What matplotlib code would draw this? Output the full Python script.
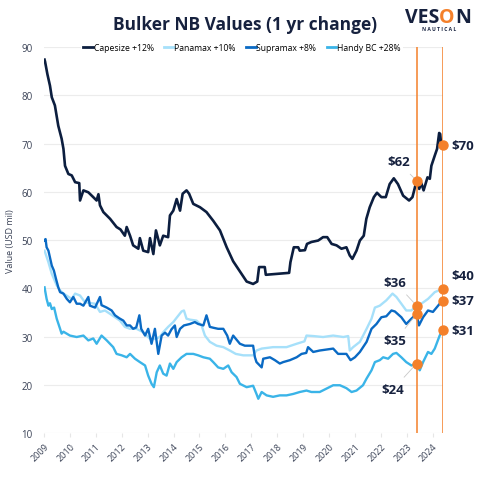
import numpy as np
import matplotlib
matplotlib.use("Agg")
import matplotlib.pyplot as plt

plt.rcParams['font.family'] = ['Open Sans', 'DejaVu Sans']

# series as (decimal year, USD mil)
cape_x = [2009.02, 2009.04, 2009.13, 2009.23, 2009.30, 2009.42, 2009.55, 2009.68, 2009.75, 2009.81,
          2009.94, 2010.07, 2010.20, 2010.36, 2010.39, 2010.52, 2010.71, 2010.90, 2011.03, 2011.10,
          2011.16, 2011.29, 2011.55, 2011.80, 2011.95, 2012.12, 2012.19, 2012.32, 2012.44, 2012.64,
          2012.70, 2012.83, 2013.02, 2013.09, 2013.22, 2013.32, 2013.47, 2013.60, 2013.79, 2013.86,
          2013.99, 2014.12, 2014.25, 2014.35, 2014.50, 2014.60, 2014.76, 2015.02, 2015.27, 2015.53,
          2015.79, 2016.05, 2016.30, 2016.56, 2016.82, 2017.07, 2017.23, 2017.30, 2017.52, 2017.56,
          2018.46, 2018.51, 2018.64, 2018.81, 2018.87, 2019.07, 2019.15, 2019.32, 2019.58, 2019.77,
          2019.93, 2020.10, 2020.29, 2020.48, 2020.67, 2020.80, 2020.90, 2021.06, 2021.19, 2021.34,
          2021.44, 2021.57, 2021.73, 2021.85, 2022.02, 2022.19, 2022.34, 2022.50, 2022.66, 2022.86,
          2023.09, 2023.22, 2023.38, 2023.48, 2023.56, 2023.65, 2023.80, 2023.89, 2023.95, 2024.08,
          2024.17, 2024.25, 2024.29, 2024.33, 2024.38]
cape_y = [87.4, 87.0, 84.4, 82.0, 79.6, 77.9, 73.7, 71.0, 68.9, 65.4,
          63.7, 63.4, 62.0, 61.8, 58.2, 60.3, 59.9, 58.9, 58.2, 59.5,
          57.2, 55.8, 54.4, 52.7, 52.2, 50.9, 52.7, 50.9, 48.9, 48.2,
          50.4, 47.8, 47.5, 50.4, 47.1, 52.0, 48.9, 50.9, 50.6, 55.1,
          56.1, 58.5, 56.1, 59.6, 60.3, 59.6, 57.5, 56.8, 55.8, 54.0,
          52.0, 48.5, 45.6, 43.5, 41.4, 40.9, 41.4, 44.4, 44.4, 42.8,
          43.2, 45.4, 48.5, 48.5, 47.8, 47.9, 49.2, 49.6, 49.9, 50.6,
          50.6, 49.2, 48.9, 48.2, 48.5, 46.8, 46.1, 47.8, 49.9, 50.9,
          54.4, 56.8, 58.9, 59.8, 58.9, 58.9, 61.6, 62.8, 61.6, 59.2,
          58.2, 58.9, 62.3, 60.6, 61.8, 60.3, 63.0, 62.7, 65.4, 67.5,
          68.9, 72.2, 72.0, 69.6, 69.7]

pana_x = [2009.02, 2009.17, 2009.30, 2009.49, 2009.62, 2009.75, 2010.07, 2010.20, 2010.39, 2010.58,
          2010.97, 2011.16, 2011.35, 2011.55, 2011.74, 2011.93, 2012.12, 2012.32, 2012.57, 2012.83,
          2013.09, 2013.28, 2013.47, 2013.60, 2013.79, 2013.99, 2014.09, 2014.31, 2014.40, 2014.50,
          2014.63, 2014.89, 2015.08, 2015.21, 2015.40, 2015.66, 2015.92, 2016.17, 2016.40, 2016.69,
          2017.07, 2017.20, 2017.40, 2017.84, 2018.36, 2018.75, 2019.05, 2019.13, 2019.39, 2019.77,
          2020.16, 2020.55, 2020.74, 2020.80, 2020.93, 2021.19, 2021.45, 2021.64, 2021.77, 2021.96,
          2022.21, 2022.45, 2022.60, 2022.79, 2022.98, 2023.18, 2023.38, 2023.56, 2023.82, 2024.08,
          2024.38]
pana_y = [47.8, 45.4, 43.0, 40.6, 39.6, 38.9, 37.8, 38.9, 38.5, 37.1,
          36.8, 35.1, 35.4, 34.7, 34.0, 33.3, 32.0, 31.6, 31.6, 30.9,
          29.5, 29.5, 29.9, 30.9, 32.0, 33.0, 33.7, 35.2, 35.4, 33.7,
          33.5, 33.3, 32.3, 30.2, 28.9, 28.1, 27.8, 27.1, 26.4, 26.1,
          26.1, 27.1, 27.5, 27.8, 27.8, 28.5, 29.0, 30.2, 30.1, 29.9,
          30.2, 29.9, 30.1, 27.1, 27.8, 28.9, 31.6, 33.7, 36.0, 36.4,
          37.5, 38.9, 38.2, 36.8, 35.4, 35.4, 36.4, 36.8, 37.8, 39.2,
          39.9]

supra_x = [2009.00, 2009.06, 2009.10, 2009.17, 2009.30, 2009.38, 2009.46, 2009.55, 2009.62, 2009.75,
           2009.88, 2010.00, 2010.13, 2010.26, 2010.39, 2010.52, 2010.71, 2010.77, 2010.97, 2011.16,
           2011.22, 2011.42, 2011.61, 2011.74, 2011.90, 2012.06, 2012.19, 2012.32, 2012.44, 2012.56,
           2012.68, 2012.75, 2012.90, 2013.02, 2013.15, 2013.28, 2013.41, 2013.54, 2013.67, 2013.79,
           2013.92, 2014.05, 2014.12, 2014.25, 2014.40, 2014.63, 2014.82, 2014.95, 2015.15, 2015.27,
           2015.40, 2015.55, 2015.72, 2015.92, 2016.07, 2016.17, 2016.30, 2016.56, 2016.75, 2017.07,
           2017.14, 2017.20, 2017.40, 2017.46, 2017.72, 2017.91, 2018.10, 2018.23, 2018.49, 2018.75,
           2018.94, 2019.12, 2019.19, 2019.39, 2019.64, 2020.16, 2020.35, 2020.67, 2020.83, 2021.00,
           2021.19, 2021.45, 2021.64, 2021.83, 2022.02, 2022.21, 2022.41, 2022.54, 2022.79, 2022.98,
           2023.18, 2023.38, 2023.47, 2023.63, 2023.82, 2024.01, 2024.27, 2024.38]
supra_y = [49.9, 50.2, 48.5, 47.8, 44.7, 43.7, 42.0, 40.2, 39.2, 38.9,
           37.8, 37.1, 38.2, 36.8, 36.8, 36.4, 38.2, 36.4, 36.0, 38.2,
           36.5, 36.0, 35.4, 34.4, 33.8, 33.3, 32.3, 32.3, 31.6, 31.9,
           34.4, 31.6, 30.2, 31.6, 28.5, 31.6, 26.4, 30.2, 30.8, 30.2,
           31.5, 32.3, 29.9, 31.6, 32.3, 32.6, 33.0, 32.6, 32.3, 34.4,
           32.0, 31.8, 31.6, 31.6, 30.2, 28.5, 30.2, 28.5, 28.1, 28.1,
           25.7, 24.7, 23.6, 25.4, 25.7, 25.1, 24.4, 24.7, 25.1, 25.7,
           26.4, 26.6, 27.8, 26.8, 27.1, 27.5, 26.4, 26.4, 25.1, 25.7,
           26.8, 28.9, 31.6, 32.6, 34.0, 34.2, 35.4, 35.2, 34.0, 32.6,
           33.7, 34.7, 32.3, 34.0, 35.4, 35.1, 36.8, 37.3]

handy_x = [2009.02, 2009.10, 2009.17, 2009.23, 2009.30, 2009.39, 2009.49, 2009.62, 2009.68, 2009.75,
           2010.00, 2010.26, 2010.52, 2010.71, 2010.90, 2011.03, 2011.22, 2011.42, 2011.67, 2011.80,
           2012.00, 2012.19, 2012.32, 2012.51, 2012.70, 2012.90, 2013.02, 2013.15, 2013.24, 2013.35,
           2013.47, 2013.60, 2013.73, 2013.86, 2013.99, 2014.12, 2014.31, 2014.50, 2014.76, 2014.95,
           2015.15, 2015.40, 2015.53, 2015.72, 2015.92, 2016.11, 2016.24, 2016.43, 2016.56, 2016.82,
           2017.07, 2017.20, 2017.27, 2017.40, 2017.59, 2017.84, 2018.10, 2018.36, 2018.62, 2018.87,
           2019.13, 2019.32, 2019.64, 2019.90, 2020.16, 2020.42, 2020.67, 2020.87, 2021.06, 2021.31,
           2021.45, 2021.64, 2021.77, 2021.96, 2022.09, 2022.28, 2022.47, 2022.60, 2022.79, 2022.98,
           2023.18, 2023.38, 2023.50, 2023.63, 2023.82, 2023.95, 2024.08, 2024.27, 2024.38]
handy_y = [40.2, 37.8, 36.4, 36.9, 35.7, 36.0, 33.7, 31.6, 30.6, 31.0,
           30.2, 29.9, 30.2, 29.2, 29.6, 28.5, 30.2, 29.2, 27.8, 26.4,
           26.1, 25.7, 26.4, 25.4, 24.7, 24.0, 21.9, 20.2, 19.5, 22.6,
           24.0, 22.3, 21.9, 24.4, 23.3, 24.7, 25.7, 26.4, 26.4, 26.1,
           25.7, 25.4, 24.7, 23.6, 23.3, 24.0, 22.6, 21.6, 20.2, 19.5,
           19.8, 18.1, 17.1, 18.5, 17.8, 17.5, 17.8, 17.8, 18.1, 18.5,
           18.8, 18.5, 18.5, 19.2, 19.9, 19.9, 19.3, 18.5, 18.8, 19.9,
           21.3, 23.0, 24.7, 25.1, 25.7, 25.4, 26.4, 26.6, 25.7, 24.7,
           24.0, 24.4, 23.0, 24.7, 26.8, 26.4, 27.5, 30.2, 31.3]

names = ['Capesize +12%', 'Panamax +10%', 'Supramax +8%', 'Handy BC +28%']
colors = ['#0c1e3f', '#a6e0fa', '#0a6ac4', '#3ab4e8']
series = [(cape_x, cape_y), (pana_x, pana_y), (supra_x, supra_y), (handy_x, handy_y)]

years = list(range(2009, 2025))
marks = [2023.38, 2024.38]
orange = '#f4802a'
navy = '#16213e'

fig = plt.figure(figsize=(4.8, 4.81), dpi=100)
ax = fig.add_axes([0.0917, 0.0977, 0.8313, 0.8023])

z = [4, 1, 3, 2]
for (sx, sy), c, n, zz in zip(series, colors, names, z):
    ax.plot(sx, sy, color=c, lw=1.9 if zz == 4 else 1.7, label=n, zorder=zz,
            solid_joinstyle='round')

for m in marks:
    ax.axvline(m, color=orange, lw=1.1, zorder=5)

# dots where the marks cross each series
for sx, sy in series:
    for m in marks:
        ax.plot(m, np.interp(m, sx, sy), 'o', color=orange, ms=6.5, zorder=6, clip_on=False)

# value labels: (series index, mark index, text position)
label_pos = [(0, 0, (2022.67, 66.2)), (0, 1, (2025.17, 69.5)),
             (1, 0, (2022.55, 41.2)), (2, 0, (2022.55, 29.1)), (3, 0, (2022.46, 19.0)),
             (1, 1, (2025.17, 42.7)), (2, 1, (2025.17, 37.4)), (3, 1, (2025.17, 31.2))]
for si, mi, pos in label_pos:
    sx, sy = series[si]
    v = np.interp(marks[mi], sx, sy)
    ax.annotate('$%d' % round(v), xy=(marks[mi], v), xytext=pos, ha='center', va='center',
                fontsize=9.5, fontweight='bold', color=navy, annotation_clip=False,
                arrowprops=dict(arrowstyle='-', color='#c8c8c8', lw=0.6, shrinkA=3, shrinkB=3))

ax.set_xlim(2009, 2024.4)
ax.set_ylim(10, 90)
ax.set_yticks(range(10, 100, 10))
ax.set_xticks(years)
ax.set_xticklabels([str(y) for y in years], rotation=45, ha='right', rotation_mode='anchor')
ax.tick_params(axis='x', length=3, color='#e6e6e6', labelsize=6.5, labelcolor='#3a4256', pad=3)
ax.tick_params(axis='y', length=0, labelsize=7, labelcolor='#3a4256', pad=8)
ax.grid(axis='y', color='#ececec', lw=0.8)
ax.set_axisbelow(True)
for s in ax.spines.values():
    s.set_visible(False)
ax.set_ylabel('Value (USD mil)', fontsize=6.5, color='#3a4256', labelpad=5)

leg = ax.legend(loc='center', bbox_to_anchor=(0.496, 1.0), ncol=4, fontsize=6.2,
                frameon=True, facecolor='white', edgecolor='none', framealpha=1,
                handlelength=1.1, handletextpad=0.1, columnspacing=1.2, borderpad=0.3)
for h in leg.get_lines():
    h.set_linewidth(2)
leg.set_zorder(10)

fig.text(0.51, 0.948, 'Bulker NB Values (1 yr change)', ha='center', va='center',
         fontsize=12.5, fontweight='bold', color=navy)

# logo, letters placed one after the other
fig.canvas.draw()
r = fig.canvas.get_renderer()
x0 = 405 / 480
for ch, c in zip(['VES', 'O', 'N'], [navy, orange, navy]):
    t = fig.text(x0, 0.963, ch, ha='left', va='center', fontsize=14, fontweight='bold', color=c)
    x0 += t.get_window_extent(r).width / 480
fig.text(0.915, 0.938, 'N A U T I C A L', ha='center', va='center', fontsize=3.6,
         fontweight='bold', color=navy)

fig.savefig('out.png', dpi=100, facecolor='white')
